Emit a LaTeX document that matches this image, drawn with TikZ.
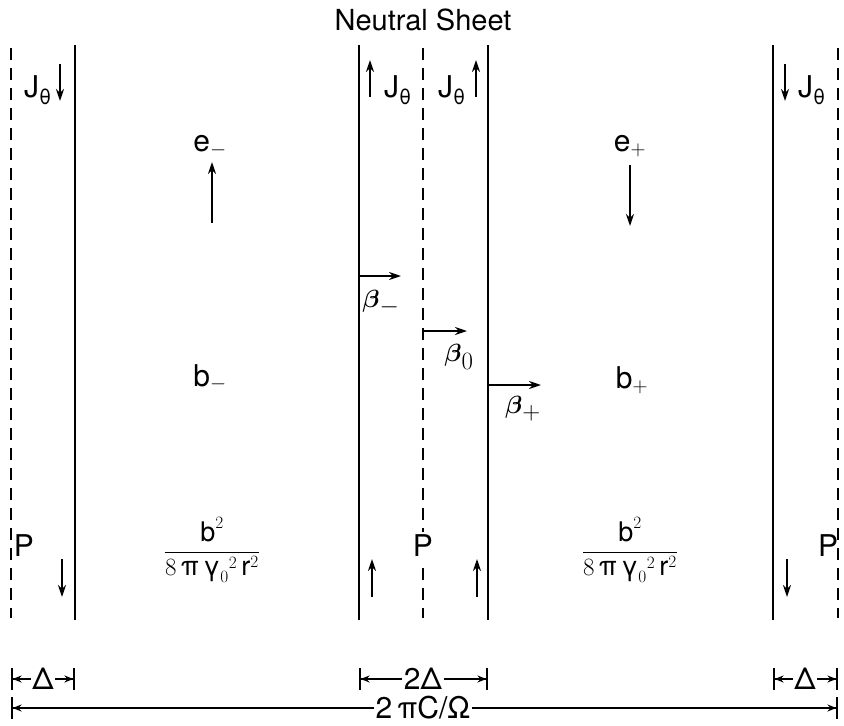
\documentclass[tikz,border=0pt]{standalone}
\usepackage{amsmath}
\usepackage{fontspec}
\setmainfont{TeX Gyre Heros}
\usetikzlibrary{positioning,arrows.meta}

\begin{document}
\begin{tikzpicture}[x=1pt, y=-1pt, >=stealth, line width=1.6pt,
    every node/.style={font=\fontsize{30}{34}\selectfont, inner sep=1pt},
    big/.style={font=\fontsize{33}{37}\selectfont},
    frac/.style={font=\fontsize{27}{31}\selectfont},
    sheet/.style={dash pattern=on 12pt off 8pt, line width=2.2pt},
    wall/.style={line width=2pt},
    flow/.style={-{Stealth[length=12pt, width=8pt]}, line width=1.8pt},
    dimL/.style={{Bar[width=22pt]Stealth[length=9pt, width=7pt]}-, line width=1.6pt},
    dimR/.style={-{Stealth[length=9pt, width=7pt]Bar[width=22pt]}, line width=1.6pt}]
	% 0. Rahmen
	\useasboundingbox (0,0) rectangle (844,726);
	
	% 1. Neutralschichten (gestrichelt) und Waende
	\foreach \x/\n in {11/sL, 423/sM, 838/sR}
		\draw[sheet] (\x,48) coordinate (\n top) -- (\x,618) coordinate (\n bot);
	\foreach \x/\n in {75/wA, 359/wB, 488/wC, 773/wD}
		\draw[wall] (\x,45) coordinate (\n top) -- (\x,620) coordinate (\n bot);
	
	% 2. Titel
	\node[font=\fontsize{29}{33}\selectfont] (title) at (423,20) {Neutral Sheet};
	
	% 3. Stroeme J oben
	\node (jA) at (38,90) {J$_{\text{θ}}$};
	\node (jB) at (398,90) {J$_{\text{θ}}$};
	\node (jC) at (452,90) {J$_{\text{θ}}$};
	\node (jD) at (812,90) {J$_{\text{θ}}$};
	\draw[flow] (60,64) -- (60,101);
	\draw[flow] (370,97) -- (370,60);
	\draw[flow] (476,97) -- (476,60);
	\draw[flow] (785,64) -- (785,101);
	
	% 4. Felder e
	\node (eM) at (210,146) {e$_-$};
	\node (eP) at (630,146) {e$_+$};
	\draw[flow] (212,223) -- (212,162);
	\draw[flow] (630,165) -- (630,226);
	
	% 5. Geschwindigkeiten beta
	\coordinate (bmT) at (401,276);
	\coordinate (b0T) at (467,331);
	\coordinate (bpT) at (541,385);
	\draw[flow] (359,276) -- (bmT);
	\draw[flow] (423,331) -- (b0T);
	\draw[flow] (488,385) -- (bpT);
	\node[big] (betaM) at (381,303) {$\boldsymbol{\beta}_-$};
	\node[big] (beta0) at (459,357) {$\boldsymbol{\beta}_0$};
	\node[big] (betaP) at (523,409) {$\boldsymbol{\beta}_+$};
	
	% 6. Felder b und Druck
	\node (bM) at (210,378) {b$_-$};
	\node (bP) at (632,380) {b$_+$};
	\node[frac] (fM) at (212,550) {$\displaystyle\frac{\text{b}^2}{8\,\text{π}\,\text{γ}_0{}^2\,\text{r}^2}$};
	\node[frac] (fP) at (630,550) {$\displaystyle\frac{\text{b}^2}{8\,\text{π}\,\text{γ}_0{}^2\,\text{r}^2}$};
	\node (pL) at (24,546) {P};
	\node[fill=white, inner sep=3pt] (pM) at (423,546) {P};
	\node (pR) at (828,546) {P};
	\draw[flow] (62,559) -- (62,597);
	\draw[flow] (372,597) -- (372,559);
	\draw[flow] (477,597) -- (477,559);
	\draw[flow] (787,559) -- (787,597);
	
	% 7. Bemassung
	\node (dA) at (43,679) {Δ};
	\node (dB) at (423,679) {2Δ};
	\node (dC) at (805,679) {Δ};
	\draw[dimL] (11,679) -- (dA.west);
	\draw[dimR] (dA.east) -- (75,679);
	\draw[dimL] (359,679) -- (dB.west);
	\draw[dimR] (dB.east) -- (488,679);
	\draw[dimL] (773,679) -- (dC.west);
	\draw[dimR] (dC.east) -- (838,679);
	\node (per) at (423,708) {2\,πC/Ω};
	\draw[dimL] (11,708) -- (per.west);
	\draw[dimR] (per.east) -- (838,708);
\end{tikzpicture}
\end{document}
